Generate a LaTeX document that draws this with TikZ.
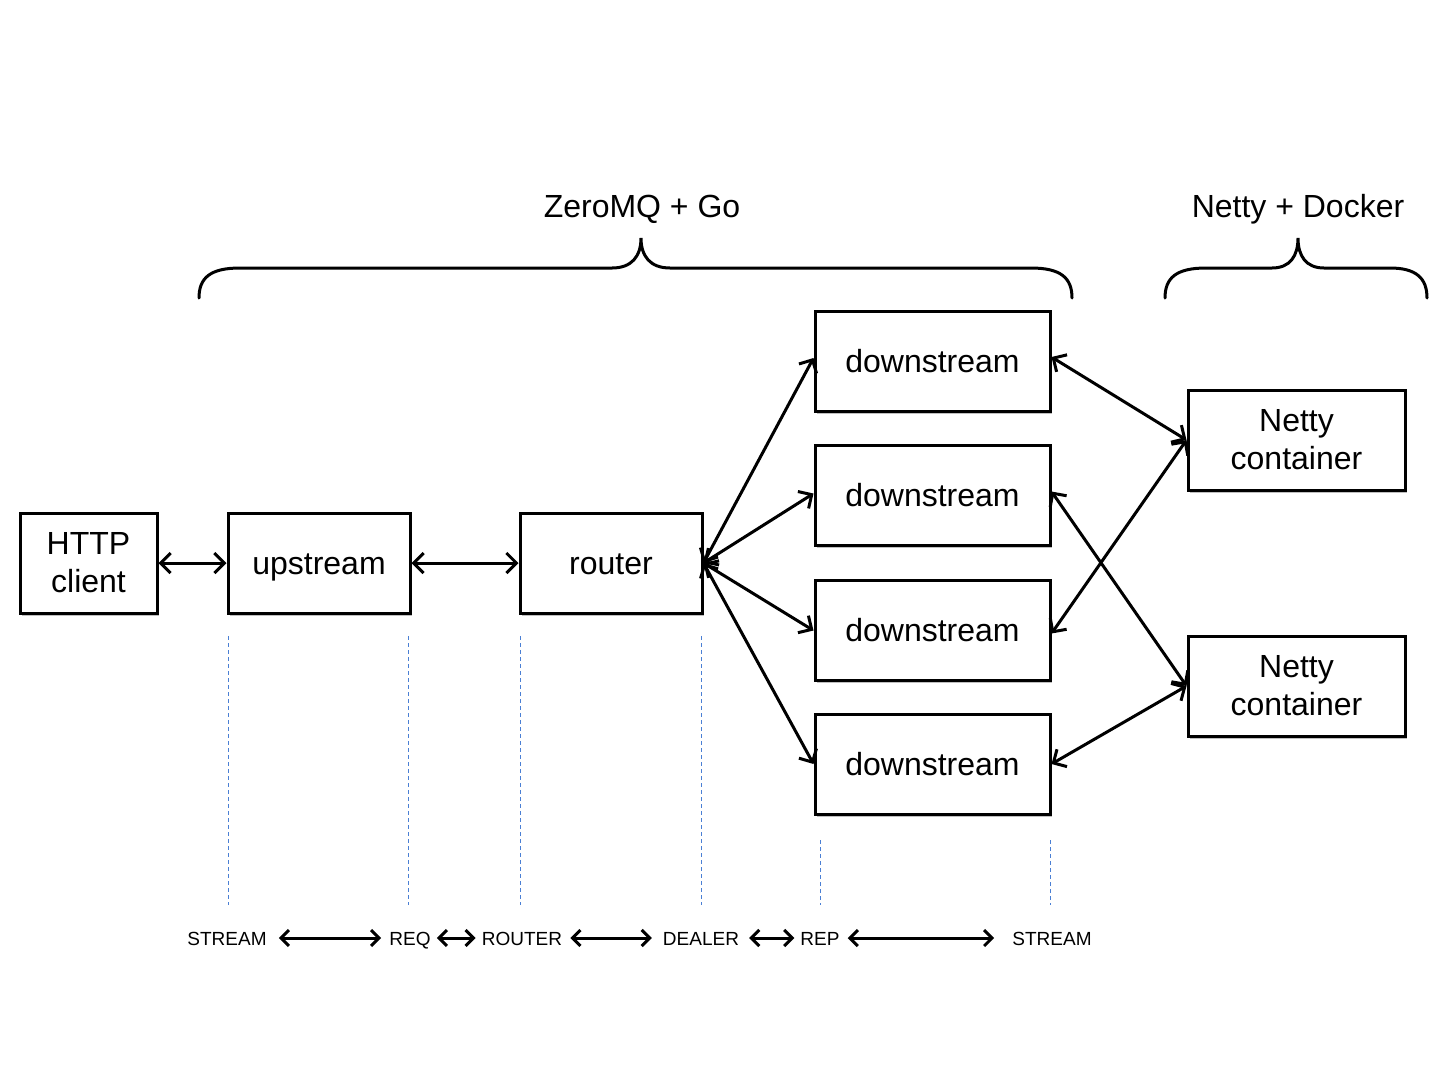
\documentclass[tikz,border=0pt]{standalone}
\usepackage{fontspec}
\setmainfont{Liberation Sans}
\usetikzlibrary{arrows.meta,shadows}
\definecolor{dashblue}{HTML}{4A7FD4}
\begin{document}
\begin{tikzpicture}[x=1pt,y=-1pt,
  box/.style={draw=black,line width=3pt,fill=white,inner sep=0pt,
    font=\fontsize{32}{38}\selectfont,align=center,
    drop shadow={shadow xshift=2pt,shadow yshift=-2.5pt,opacity=0.25,fill=black}},
  one/.style={text height=22pt,text depth=0pt},
  conn/.style={draw=black,line width=3pt,{Straight Barb[length=10pt,width=20pt]}-{Straight Barb[length=10pt,width=20pt]}},
  blink/.style={draw=black,line width=3pt,{Straight Barb[length=8pt,width=16pt]}-{Straight Barb[length=8pt,width=16pt]}},
  sep/.style={dashblue,line width=1pt,dash pattern=on 4pt off 3pt},
  lbl/.style={font=\fontsize{19}{22}\selectfont,inner sep=4pt,text height=14pt,text depth=0pt},
  title/.style={font=\fontsize{32}{36}\selectfont,text height=22pt,text depth=0pt},
  brace/.style={line width=3pt,line cap=round}]
\useasboundingbox (0,0) rectangle (1440,1080);
\fill[white] (0,0) rectangle (1440,1080);
% boxes
\node[box,minimum width=137pt,minimum height=100pt] (http) at (88.5,563) {HTTP\\client};
\node[box,one,minimum width=182pt,minimum height=100pt] (up) at (319,563) {upstream};
\node[box,one,minimum width=182pt,minimum height=100pt] (rt) at (611,563) {router};
\node[box,one,minimum width=235pt,minimum height=100pt] (d1) at (932.5,361) {downstream};
\node[box,one,minimum width=235pt,minimum height=100pt] (d2) at (932.5,495.5) {downstream};
\node[box,one,minimum width=235pt,minimum height=100pt] (d3) at (932.5,630.5) {downstream};
\node[box,one,minimum width=235pt,minimum height=100pt] (d4) at (932.5,764) {downstream};
\node[box,minimum width=217pt,minimum height=100pt] (n1) at (1296.5,440) {Netty\\container};
\node[box,minimum width=217pt,minimum height=100pt] (n2) at (1296.5,686) {Netty\\container};
% connectors
\draw[conn] (http.east) -- (up.west);
\draw[conn] (up.east) -- (rt.west);
\draw[conn] (rt.east) -- ([yshift=3pt]d1.west);
\draw[conn] (rt.east) -- ([yshift=2pt]d2.west);
\draw[conn] (rt.east) -- (d3.west);
\draw[conn] (rt.east) -- (d4.west);
\draw[conn] ([yshift=4pt]d1.east) -- (n1.west);
\draw[conn] ([yshift=4pt]d2.east) -- (n2.west);
\draw[conn] ([yshift=-3pt]d3.east) -- (n1.west);
\draw[conn] (d4.east) -- (n2.west);
% braces
\draw[brace] (199,298) .. controls (199,278) and (210,268) .. (240,268) -- (612,268)
  .. controls (632,268) and (641,256) .. (641,238)
  .. controls (641,256) and (650,268) .. (670,268) -- (1031,268)
  .. controls (1061,268) and (1072,278) .. (1072,298);
\draw[brace] (1165,298) .. controls (1165,278) and (1176,268) .. (1206,268) -- (1272,268)
  .. controls (1290,268) and (1298,256) .. (1298,238)
  .. controls (1298,256) and (1306,268) .. (1324,268) -- (1390,268)
  .. controls (1416,268) and (1427,278) .. (1427,298);
\node[title] (tz) at (642,206) {ZeroMQ + Go};
\node[title] (tn) at (1298,206) {Netty + Docker};
% dashed separators
\coordinate (s1a) at (228.5,636); \coordinate (s1b) at (228.5,905);
\coordinate (s2a) at (408.5,636); \coordinate (s2b) at (408.5,905);
\coordinate (s3a) at (520.5,636); \coordinate (s3b) at (520.5,905);
\coordinate (s4a) at (701.5,636); \coordinate (s4b) at (701.5,905);
\coordinate (s5a) at (820.5,840); \coordinate (s5b) at (820.5,905);
\coordinate (s6a) at (1050.5,840); \coordinate (s6b) at (1050.5,905);
\foreach \i in {1,...,6} {\draw[sep] (s\i a) -- (s\i b);}
% socket labels
\node[lbl] (l1) at (227,938) {STREAM};
\node[lbl] (l2) at (410,938) {REQ};
\node[lbl] (l3) at (522,938) {ROUTER};
\node[lbl] (l4) at (701,938) {DEALER};
\node[lbl] (l5) at (820,938) {REP};
\node[lbl] (l6) at (1052,938) {STREAM};
\draw[blink] ([xshift=8pt]l1.east) -- ([xshift=-4pt]l2.west);
\draw[blink] ([xshift=2pt]l2.east) -- ([xshift=-2pt]l3.west);
\draw[blink] ([xshift=4pt]l3.east) -- ([xshift=-7pt]l4.west);
\draw[blink] ([xshift=6pt]l4.east) -- ([xshift=-2pt]l5.west);
\draw[blink] ([xshift=4pt]l5.east) -- ([xshift=-14pt]l6.west);
\end{tikzpicture}
\end{document}
